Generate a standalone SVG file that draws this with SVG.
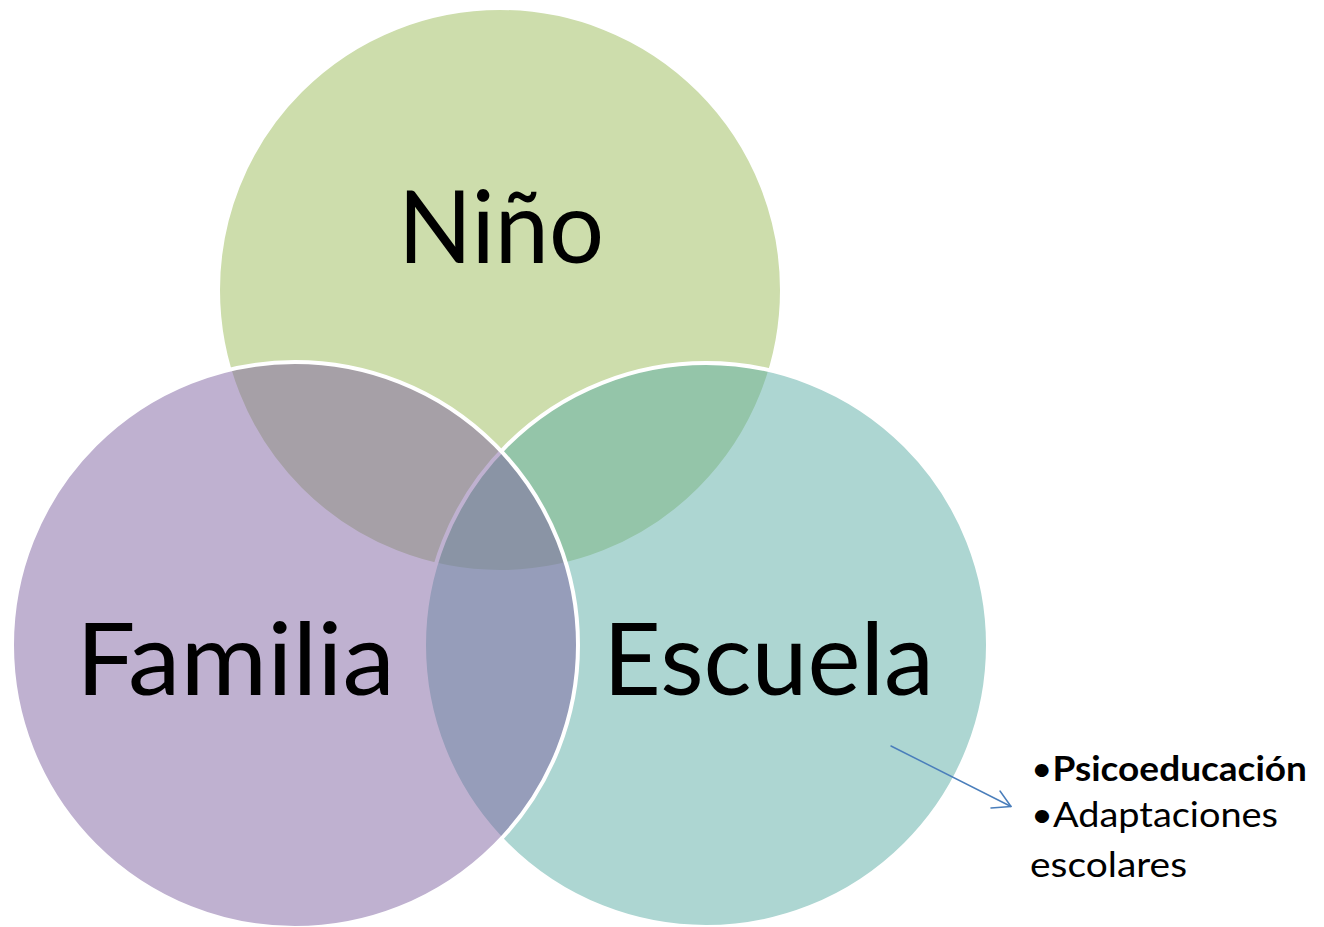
<svg xmlns="http://www.w3.org/2000/svg" width="1324" height="927" viewBox="0 0 1324 927">
  <style>
    .circ { fill-opacity: 0.5; stroke: #ffffff; stroke-width: 4; }
    .big { font-family: Lato, "Open Sans", "Liberation Sans", sans-serif; font-size: 100px; fill: #000000; }
    .small { font-family: Lato, "Open Sans", "Liberation Sans", sans-serif; font-size: 34px; fill: #000000; }
    .conn { fill: none; stroke: #4A7EBB; stroke-width: 1.5; stroke-linecap: round; stroke-linejoin: round; }
  </style>
  <rect x="0" y="0" width="1324" height="927" fill="#ffffff"/>
  <g id="nino">
    <circle class="circ" cx="500" cy="290" r="282" fill="#9BBB59"/>
    <text class="big" x="398" y="263" textLength="206" lengthAdjust="spacingAndGlyphs">Niño</text>
  </g>
  <g id="escuela">
    <circle class="circ" cx="706" cy="645" r="282" fill="#5BADA5"/>
  </g>
  <g id="familia">
    <circle class="circ" cx="295" cy="645" r="283" fill="#8064A2"/>
  </g>
  <g id="labels">
    <text class="big" x="76" y="695" textLength="319" lengthAdjust="spacingAndGlyphs">Familia</text>
    <text class="big" x="603" y="695" textLength="331" lengthAdjust="spacingAndGlyphs">Escuela</text>
  </g>
  <g id="lista">
    <text class="small" x="1031" y="781" textLength="276" lengthAdjust="spacingAndGlyphs">•<tspan font-weight="bold">Psicoeducación</tspan></text>
    <text class="small" x="1031" y="827" textLength="247" lengthAdjust="spacingAndGlyphs">•Adaptaciones</text>
    <text class="small" x="1030" y="877" textLength="157" lengthAdjust="spacingAndGlyphs">escolares</text>
  </g>
  <g id="connectors">
    <path class="conn" d="M891,746 L1011,806.5"/>
    <path class="conn" d="M1000,791 L1011,806.5 L991,808"/>
  </g>
</svg>
